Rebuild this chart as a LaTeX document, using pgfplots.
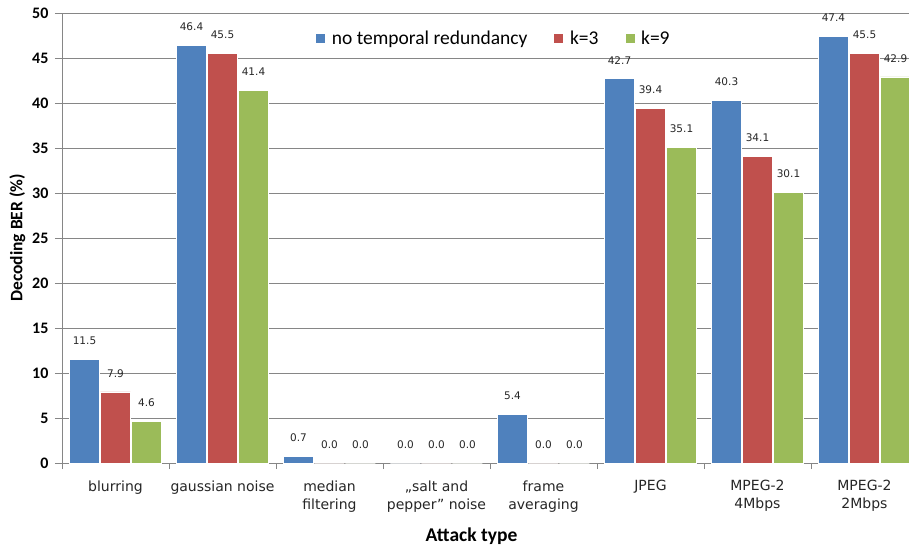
\documentclass[border=0pt]{standalone}
\usepackage{pgfplots}
\pgfplotsset{compat=1.18}
\usepackage{fontspec}
\setmainfont{Carlito}
\newfontfamily\dejavu{DejaVu Sans}
\definecolor{cblue}{HTML}{4F81BD}
\definecolor{cred}{HTML}{C0504D}
\definecolor{cgreen}{HTML}{9BBB59}
\definecolor{axgray}{HTML}{868686}
\begin{document}
\begin{tikzpicture}
\begin{axis}[
  scale only axis, width=847pt, height=450pt,
  ymin=0, ymax=50, ytick={0,5,...,50},
  xmin=-0.5, xmax=7.416,
  ybar=1pt, bar width=30pt,
  axis x line*=bottom, axis y line*=left,
  axis line style={draw=axgray, line width=0.8pt, -},
  ymajorgrids, grid style={axgray, line width=0.7pt},
  xtick={0,...,7},
  xticklabels={blurring,gaussian noise,median\\filtering,„salt and\\pepper” noise,frame\\averaging,JPEG,MPEG-2\\4Mbps,MPEG-2\\2Mbps},
  major x tick style={draw=none},
  minor xtick={-0.5,0.5,...,7.5},
  minor x tick style={draw=axgray, line width=0.8pt},
  minor tick length=6pt,
  tick align=outside,
  major tick length=7pt,
  ytick style={draw=axgray, line width=0.8pt},
  xticklabel style={font=\dejavu\fontsize{14}{18}\selectfont, align=center, yshift=-7pt, text=black!85},
  yticklabel style={font=\bfseries\fontsize{16}{16}\selectfont, xshift=-3pt},
  /pgf/number format/assume math mode=true,
  xlabel={\bfseries\fontsize{19.5}{19.5}\selectfont Attack type},
  xlabel style={yshift=-9pt, xshift=-14pt},
  ylabel={\bfseries\fontsize{17.5}{17.5}\selectfont Decoding BER (\%)},
  ylabel style={yshift=0pt},
  nodes near coords,
  every node near coord/.append style={font=\dejavu\fontsize{10.5}{11}\selectfont, anchor=south, yshift=11pt, text=black!85,
    /pgf/number format/fixed, /pgf/number format/fixed zerofill, /pgf/number format/precision=1},
  legend style={draw=none, fill=none, at={(rel axis cs:0.2953,0.943)}, anchor=west,
    font=\fontsize{19.5}{20}\selectfont, legend columns=3,
    /tikz/every odd column/.append style={column sep=4pt},
    /tikz/every even column/.append style={column sep=24pt}},
  legend image code/.code={\fill[#1] (0pt,-4.5pt) rectangle (10pt,5.5pt);},
]
\addplot[fill=cblue, draw=white, line width=0.6pt] coordinates {(0,11.5) (1,46.4) (2,0.7) (3,0.0) (4,5.4) (5,42.7) (6,40.3) (7,47.4)};
\addplot[fill=cred, draw=white, line width=0.6pt] coordinates {(0,7.9) (1,45.5) (2,0.0) (3,0.0) (4,0.0) (5,39.4) (6,34.1) (7,45.5)};
\addplot[fill=cgreen, draw=white, line width=0.6pt] coordinates {(0,4.6) (1,41.4) (2,0.0) (3,0.0) (4,0.0) (5,35.1) (6,30.1) (7,42.9)};
\legend{no temporal redundancy,k=3,k=9}
\coordinate (sw) at (rel axis cs:0,0);
\coordinate (ne) at (rel axis cs:1,1);
\end{axis}
\pgfresetboundingbox
\path ([shift={(-62pt,-83pt)}]sw) rectangle ([shift={(0pt,13pt)}]ne);
\end{tikzpicture}
\end{document}
